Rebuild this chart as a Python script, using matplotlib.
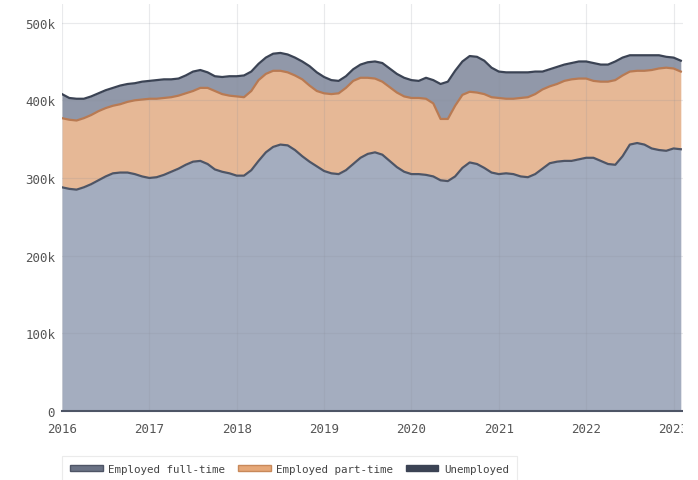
import numpy as np
import matplotlib
matplotlib.use("Agg")
import matplotlib.pyplot as plt
from matplotlib.patches import Patch, Rectangle

# monthly values, Jan 2016 .. Feb 2023 (thousands)
full_time = [288,286,285,288,292,297,302,306,307,307,305,302,
             300,301,304,308,312,317,321,322,318,311,308,306,
             303,303,310,322,333,340,343,342,336,328,321,315,
             309,306,305,310,318,326,331,333,330,322,314,308,
             305,305,304,302,297,296,302,313,320,318,313,307,
             305,306,305,302,301,305,312,319,321,322,322,324,
             326,326,322,318,317,328,343,345,343,338,336,335,
             338,337]
part_time = [89,89,89,89,89,89,88,87,88,91,95,99,
             102,101,99,96,94,92,91,94,98,101,100,100,
             102,101,102,104,101,98,95,94,96,99,98,97,
             100,102,104,106,107,103,98,95,94,95,96,97,
             98,98,98,94,79,80,91,94,91,92,95,97,
             98,96,97,101,103,103,102,99,100,103,105,104,
             102,99,102,106,109,104,94,93,95,101,105,107,
             103,100]
unemployed = [31,28,28,25,24,23,23,23,24,23,22,23,
              23,24,24,23,22,23,25,23,20,19,22,25,
              26,28,25,21,21,22,23,23,23,23,25,24,
              21,18,16,15,15,17,20,22,24,24,24,24,
              23,22,27,30,45,48,45,43,46,46,43,38,
              34,34,34,33,32,29,23,22,22,21,21,22,
              22,23,22,22,24,23,21,20,20,19,17,14,
              14,14]
labels = ["Employed full-time", "Employed part-time", "Unemployed"]
years = ["2016", "2017", "2018", "2019", "2020", "2021", "2022", "2023"]

fills = ["#a4adbf", "#e6b896", "#9198a9"]
lines = ["#4e5566", "#b97a52", "#3b4354"]

ft = np.array(full_time) * 1000
pt = np.array(part_time) * 1000
un = np.array(unemployed) * 1000
x = np.arange(len(ft))

fig = plt.figure(figsize=(6.98, 4.81), dpi=100)
ax = fig.add_axes([62/698, 1-412/481, (683-62)/698, (412-5)/481])

lvl0 = np.zeros(len(x))
lvl1 = ft
lvl2 = ft + pt
lvl3 = ft + pt + un
ax.fill_between(x, lvl0, lvl1, color=fills[0], lw=0, zorder=1)
ax.fill_between(x, lvl1, lvl2, color=fills[1], lw=0, zorder=1)
ax.fill_between(x, lvl2, lvl3, color=fills[2], lw=0, zorder=1)
ax.plot(x, lvl1, color=lines[0], lw=1.6, zorder=3)
ax.plot(x, lvl2, color=lines[1], lw=1.6, zorder=3)
ax.plot(x, lvl3, color=lines[2], lw=1.6, zorder=3)

ax.set_xlim(0, 85.3)
ax.set_ylim(0, 524000)
ax.set_xticks(np.arange(0, 85, 12))
ax.set_xticklabels(years)
ax.set_yticks([0, 100000, 200000, 300000, 400000, 500000])
ax.set_yticklabels(["0", "100k", "200k", "300k", "400k", "500k"])
ax.grid(True, color="#8a8f99", alpha=0.18, lw=0.8, zorder=2)
for s in ["top", "right", "left"]:
    ax.spines[s].set_visible(False)
ax.spines["bottom"].set_color("#4e5566")
ax.spines["bottom"].set_linewidth(1.5)
ax.tick_params(length=0, labelsize=9, labelcolor="#555555", pad=5)
ax.tick_params(axis="x", pad=8)
for t in ax.get_xticklabels() + ax.get_yticklabels():
    t.set_family("DejaVu Sans Mono")

handles = [Patch(facecolor="#6a7285", edgecolor="#4e5566"),
           Patch(facecolor="#e6a878", edgecolor="#c8895a"),
           Patch(facecolor=lines[2], edgecolor=lines[2])]
leg = fig.legend(handles, labels, loc="upper left",
                 bbox_to_anchor=(62/698, 1-457/481), ncol=3,
                 prop={"family": "DejaVu Sans Mono", "size": 7.8},
                 frameon=True, fancybox=False, handlelength=3.0,
                 handleheight=0.45, columnspacing=1.2, handletextpad=0.5,
                 borderpad=0.75, borderaxespad=0)
leg.get_frame().set_edgecolor("#e6e6e6")
leg.get_frame().set_linewidth(0.8)
for t in leg.get_texts():
    t.set_color("#444444")

# the reference image is cut at the right edge
fig.patches.append(Rectangle((683/698, 0.05), 1, 0.1, transform=fig.transFigure,
                             facecolor="white", edgecolor="none", zorder=10))

fig.savefig("out.png", dpi=100)
